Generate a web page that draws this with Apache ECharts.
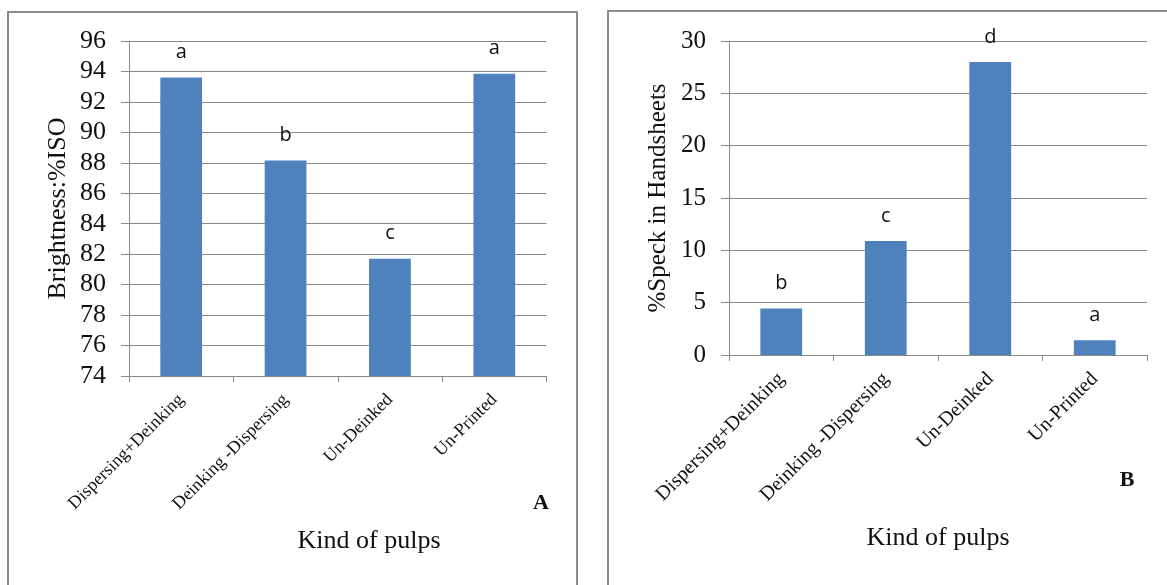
<!DOCTYPE html>
<html><head><meta charset="utf-8">
<script src="https://cdn.jsdelivr.net/npm/echarts@6/dist/echarts.min.js"></script>
<style>html,body{margin:0;padding:0;background:#fff}#c{width:1167px;height:585px}</style>
</head><body><div id="c"></div>
<script>
const categories = ['Dispersing+Deinking', 'Deinking -Dispersing', 'Un-Deinked', 'Un-Printed'];
const brightness = [93.6, 88.15, 81.7, 93.85];
const brightnessLetters = ['a', 'b', 'c', 'a'];
const speck = [4.45, 10.9, 28.0, 1.4];
const speckLetters = ['b', 'c', 'd', 'a'];
const brightnessAxis = { min: 74, max: 96, interval: 2 };
const speckAxis = { min: 0, max: 30, interval: 5 };

const serif = '"Liberation Serif", "Times New Roman", serif';
const sans = '"Open Sans", "Liberation Sans", sans-serif';
const gridColor = '#8a8a8a';
const barColor = '#4F81BD';

function xAxisFor(i, fs) {
  return {
    type: 'category', gridIndex: i, data: categories, boundaryGap: true,
    axisLine: { lineStyle: { color: gridColor, width: 1 } },
    axisTick: { show: true, length: 6, alignWithLabel: false, lineStyle: { color: gridColor } },
    axisLabel: { rotate: 45, interval: 0, margin: 21, fontFamily: serif, fontSize: fs, color: '#111' }
  };
}
function yAxisFor(i, ax, name, fs, nfs, gap) {
  return {
    type: 'value', gridIndex: i, min: ax.min, max: ax.max, interval: ax.interval,
    name: name, nameLocation: 'middle', nameGap: gap, nameRotate: 90,
    nameTextStyle: { fontFamily: serif, fontSize: nfs, color: '#111' },
    axisLine: { show: true, lineStyle: { color: gridColor, width: 1 } },
    axisTick: { show: true, length: 8, lineStyle: { color: gridColor } },
    axisLabel: { margin: 23, fontFamily: serif, fontSize: fs, color: '#111' },
    splitLine: { show: true, lineStyle: { color: gridColor, width: 1 } }
  };
}
function barSeries(i, values, letters) {
  return {
    type: 'bar', xAxisIndex: i, yAxisIndex: i, barWidth: '40%',
    itemStyle: { color: barColor },
    data: values.map((v, k) => ({ value: v, label: { formatter: letters[k] } })),
    label: { show: true, position: 'top', distance: 15, fontFamily: sans, fontSize: 20, color: '#111' },
    animation: false
  };
}

const chart = echarts.init(document.getElementById('c'), null, { renderer: 'canvas' });
chart.setOption({
  animation: false,
  grid: [
    { left: 129, top: 41, width: 417.5, bottom: 209, containLabel: false },
    { left: 729, top: 41, width: 418, bottom: 230, containLabel: false }
  ],
  xAxis: [xAxisFor(0, 18), xAxisFor(1, 20)],
  yAxis: [yAxisFor(0, brightnessAxis, 'Brightness:%ISO', 26, 26, 58), yAxisFor(1, speckAxis, '%Speck in Handsheets', 25, 25, 58)],
  series: [barSeries(0, brightness, brightnessLetters), barSeries(1, speck, speckLetters)],
  graphic: [
    { type: 'rect', shape: { x: 8, y: 12, width: 569, height: 620 }, style: { fill: 'none', stroke: '#8c8c8c', lineWidth: 2 }, silent: true },
    { type: 'rect', shape: { x: 608, y: 11, width: 620, height: 620 }, style: { fill: 'none', stroke: '#8c8c8c', lineWidth: 2 }, silent: true },
    { type: 'text', x: 369, y: 541, style: { text: 'Kind of pulps', font: '26px ' + serif, fill: '#111', textAlign: 'center', textVerticalAlign: 'middle' } },
    { type: 'text', x: 938, y: 538, style: { text: 'Kind of pulps', font: '26px ' + serif, fill: '#111', textAlign: 'center', textVerticalAlign: 'middle' } },
    { type: 'text', x: 541, y: 503, style: { text: 'A', font: 'bold 22px ' + serif, fill: '#111', textAlign: 'center', textVerticalAlign: 'middle' } },
    { type: 'text', x: 1127, y: 480, style: { text: 'B', font: 'bold 22px ' + serif, fill: '#111', textAlign: 'center', textVerticalAlign: 'middle' } }
  ]
});
</script></body></html>
